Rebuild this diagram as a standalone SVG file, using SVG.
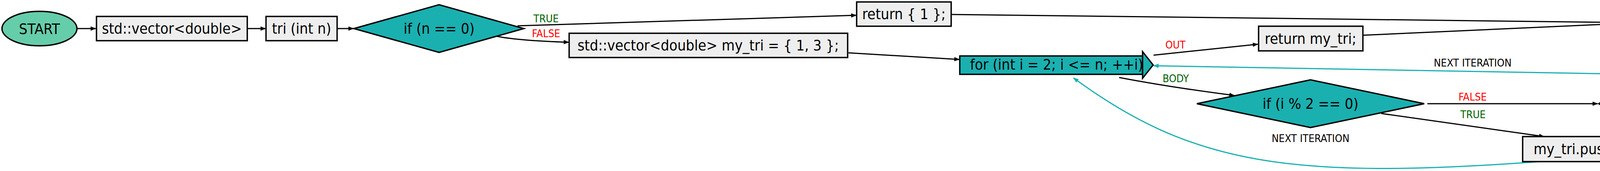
<svg xmlns="http://www.w3.org/2000/svg" width="5726" height="437" viewBox="0 0 5726 437">
<style>
text{font-family:'DejaVu Sans Condensed','DejaVu Sans',sans-serif;font-stretch:condensed}
.nt{font-size:38px;fill:#000;text-anchor:middle}
.lb{font-size:27px;text-anchor:middle}
.box{fill:#eeeeee;stroke:#000;stroke-width:3.5}
.dec{fill:#1ab0b0;stroke:#000;stroke-width:3.5}
.e{fill:none;stroke:#000;stroke-width:3;marker-end:url(#ah)}
.n{fill:none;stroke:#1ab0b0;stroke-width:3;marker-end:url(#aht)}
.g{fill:#006400}.r{fill:#ff0000}.k{fill:#000}
</style>
<defs>
<marker id="ah" viewBox="0 0 14 11" refX="13" refY="5.5" markerWidth="14" markerHeight="11" markerUnits="userSpaceOnUse" orient="auto"><path d="M0,0 L14,5.5 L0,11 z" fill="#000"/></marker>
<marker id="aht" viewBox="0 0 14 11" refX="13" refY="5.5" markerWidth="14" markerHeight="11" markerUnits="userSpaceOnUse" orient="auto"><path d="M0,0 L14,5.5 L0,11 z" fill="#1ab0b0"/></marker>
</defs>
<rect width="5726" height="437" fill="#ffffff"/>
<g id="connectors">
<path class="e" d="M197,73 L245,73"/>
<path class="e" d="M633,73 L680,73"/>
<path class="e" d="M863,73 L905,73"/>
<path class="e" d="M1325,66 L2192,39"/>
<path class="e" d="M1273,93 Q1330,104 1456,108"/>
<path class="e" d="M2437,37 L4111,57"/>
<path class="e" d="M2172,135 L2456,152"/>
<path class="e" d="M2953,141 L3220,113"/>
<path class="e" d="M3490,90 L4111,62"/>
<path class="e" d="M2865,198 Q2990,222 3160,244"/>
<path class="e" d="M3654,265 L4090,265"/>
<path class="e" d="M3536,290 L3953,349"/>
<path class="e" d="M4273,260 L4580,245"/>
<path class="n" d="M4582,197 L2953,168"/>
<path class="n" d="M3942,413 C3300,460 3050,420 2748,199"/>
<text class="lb g" x="1398" y="57">TRUE</text>
<text class="lb r" x="1398" y="95">FALSE</text>
<text class="lb r" x="3009" y="124">OUT</text>
<text class="lb g" x="3010" y="210">BODY</text>
<text class="lb k" x="3770" y="170">NEXT ITERATION</text>
<text class="lb k" x="3355" y="363">NEXT ITERATION</text>
<text class="lb r" x="3770" y="257">FALSE</text>
<text class="lb g" x="3771" y="302">TRUE</text>
<text class="lb g" x="4527" y="239">TRUE</text>
</g>
<g id="start"><ellipse cx="101" cy="73" rx="96" ry="44" fill="#66cdaa" stroke="#000" stroke-width="3.5"/><text class="nt" x="101" y="87">START</text></g>
<g id="decl"><rect class="box" x="247" y="42" width="386" height="62"/><text class="nt" x="440" y="86">std::vector&lt;double&gt;</text></g>
<g id="func"><rect class="box" x="681" y="42" width="182" height="62"/><text class="nt" x="772" y="86">tri (int n)</text></g>
<g id="if1"><polygon class="dec" points="906,73 1124,12 1341,73 1124,134"/><text class="nt" x="1124" y="86">if (n == 0)</text></g>
<g id="ret1"><rect class="box" x="2193" y="5" width="242" height="62"/><text class="nt" x="2314" y="49">return { 1 };</text></g>
<g id="init"><rect class="box" x="1457" y="85" width="713" height="62"/><text class="nt" x="1813" y="129">std::vector&lt;double&gt; my_tri = { 1, 3 };</text></g>
<g id="for"><rect class="dec" x="2457" y="143" width="468" height="47"/><polygon class="dec" points="2925,132 2952,166 2925,200"/><text class="nt" x="2705" y="178">for (int i = 2; i &lt;= n; ++i)</text></g>
<g id="ret2"><rect class="box" x="3222" y="67" width="267" height="63"/><text class="nt" x="3355" y="112">return my_tri;</text></g>
<g id="end"><ellipse cx="4184" cy="58" rx="70" ry="44" fill="#ff0000" stroke="#000" stroke-width="3.5"/><text class="nt" x="4184" y="72">END</text></g>
<g id="if2"><polygon class="dec" points="3064,265 3355,204 3646,265 3355,326"/><text class="nt" x="3355" y="278">if (i % 2 == 0)</text></g>
<g id="else"><polygon class="dec" points="4093,265 4184,203 4275,265 4184,327"/><text class="nt" x="4184" y="278">else</text></g>
<g id="push1"><rect class="box" x="3898" y="349" width="573" height="64"/><text class="nt" x="4185" y="394">my_tri.push_back (i / 2.0 + 1);</text></g>
<g id="push2"><rect class="box" x="4582" y="183" width="1139" height="64"/><text class="nt" x="5151" y="228">my_tri.push_back (my_tri[i - 1] + my_tri[i - 2] + (i + 3) / 2.0);</text></g>
</svg>
